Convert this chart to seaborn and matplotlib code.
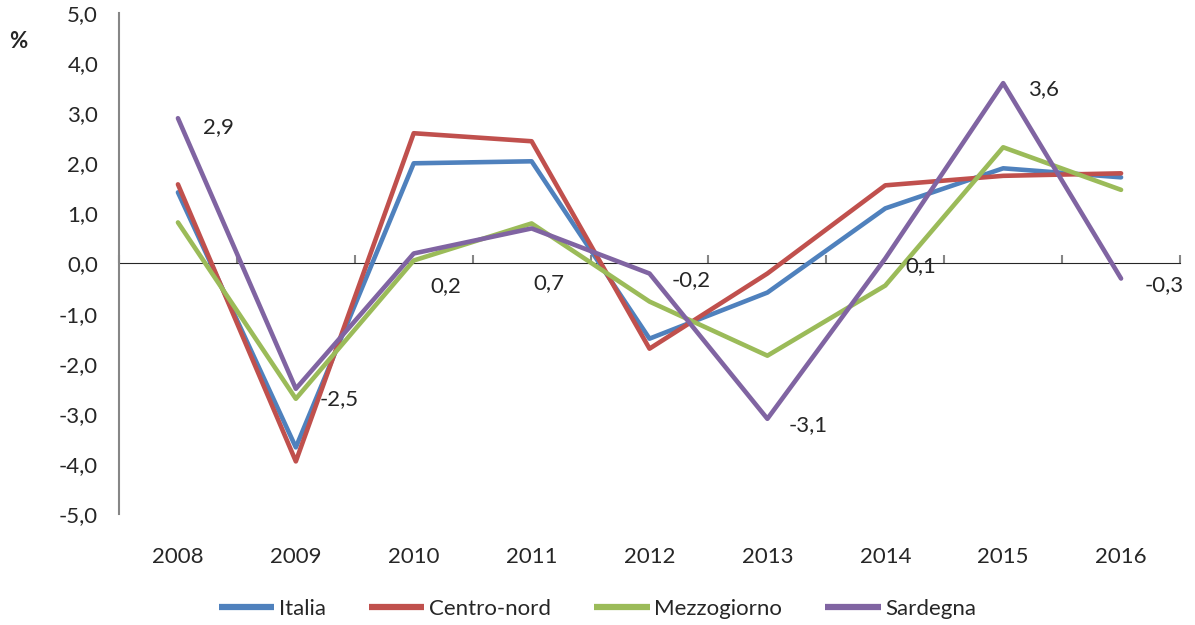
import pandas as pd
import matplotlib.pyplot as plt
import seaborn as sns
from matplotlib.ticker import FuncFormatter, FixedLocator

# Dati (variazioni %)
anni = ["2008", "2009", "2010", "2011", "2012", "2013", "2014", "2015", "2016"]
italia = [1.42, -3.67, 2.0, 2.04, -1.5, -0.58, 1.1, 1.9, 1.72]
centro_nord = [1.58, -3.95, 2.6, 2.44, -1.7, -0.2, 1.56, 1.75, 1.8]
mezzogiorno = [0.82, -2.7, 0.06, 0.8, -0.76, -1.84, -0.44, 2.32, 1.47]
sardegna = [2.9, -2.5, 0.2, 0.7, -0.2, -3.1, 0.1, 3.6, -0.3]

serie = ["Italia", "Centro-nord", "Mezzogiorno", "Sardegna"]
colori = ["#4F81BD", "#C0504D", "#9BBB59", "#8064A2"]

df = pd.DataFrame({
    "anno": anni * 4,
    "valore": italia + centro_nord + mezzogiorno + sardegna,
    "serie": sum([[s] * len(anni) for s in serie], []),
})

sns.set_style("white")
plt.rcParams["font.family"] = ["Lato", "DejaVu Sans"]
fs = 16

fig = plt.figure(figsize=(11.95, 6.25), dpi=100)
ax = fig.add_axes([119 / 1195, 1 - 514 / 625, 1061 / 1195, 501 / 625])

sns.lineplot(data=df, x="anno", y="valore", hue="serie", palette=colori,
             linewidth=3.3, ax=ax, legend=False, sort=False)

# etichette Sardegna (spostamenti in pixel)
spost = [(40, -9), (43, -10), (32, -33), (17, -55), (42, -7), (41, -6), (36, -8), (40, -6), (43, -7)]
for i, (v, off) in enumerate(zip(sardegna, spost)):
    ax.annotate(f"{v:.1f}".replace(".", ","), (i, v), xytext=off,
                textcoords="offset pixels", ha="center", va="center", fontsize=fs)

grigio = "#868686"
ax.set_xlim(-0.5, len(anni) - 0.5)
ax.set_ylim(-5, 5)
ax.yaxis.set_major_locator(FixedLocator([-5, -4, -3, -2, -1, 0, 1, 2, 3, 4, 5]))
ax.yaxis.set_major_formatter(FuncFormatter(lambda v, p: f"{v:.1f}".replace(".", ",")))
ax.tick_params(axis="y", length=6, width=1.5, color=grigio, labelsize=fs, pad=9)
ax.tick_params(axis="x", length=0, labelsize=fs, pad=24)
ax.set_xlabel("")
ax.set_ylabel("")

for s in ["top", "right", "bottom"]:
    ax.spines[s].set_visible(False)
ax.spines["left"].set_color(grigio)
ax.spines["left"].set_linewidth(1.5)

# asse dello zero con tacche tra le categorie
sec = ax.secondary_xaxis(0.5)
sec.set_xticks([i + 0.5 for i in range(-1, len(anni))])
sec.set_xticklabels([])
sec.tick_params(length=6, width=1.5, color=grigio)
sec.spines["bottom"].set_color(grigio)
sec.spines["bottom"].set_linewidth(1.5)

fig.text(18 / 1195, 1 - 42 / 625, "%", fontsize=fs, fontweight="bold", ha="center", va="center")

handles = [plt.Line2D([], [], color=c, linewidth=4.5, solid_capstyle="butt") for c in colori]
fig.legend(handles, serie, loc="center", bbox_to_anchor=(0.5, 1 - 609 / 625), ncol=4,
           frameon=False, fontsize=fs, handlelength=2.5, handletextpad=0.2, columnspacing=1.95)

fig.savefig("out.png", dpi=100)
